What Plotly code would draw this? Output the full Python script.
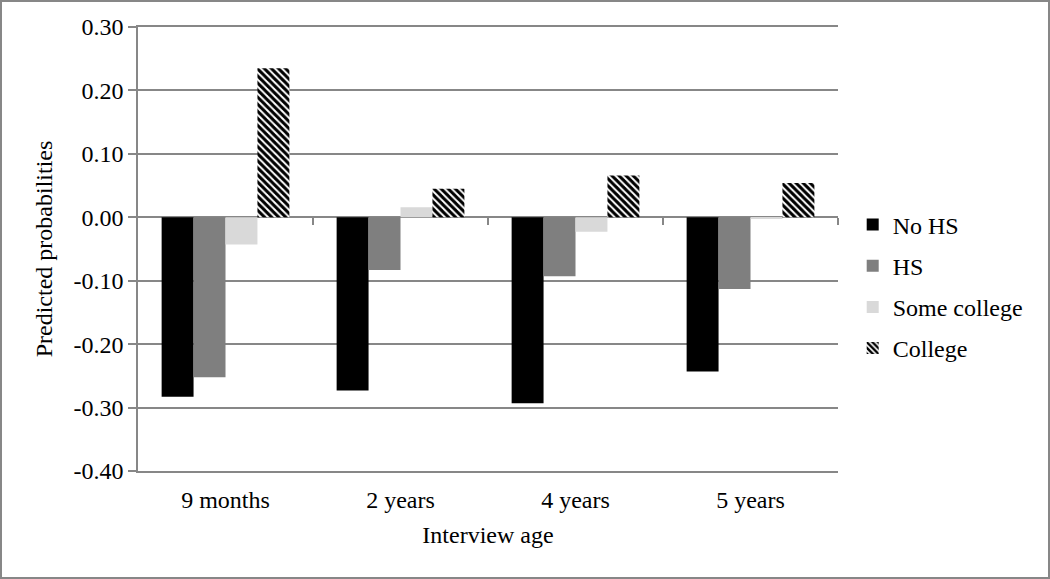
import plotly.graph_objects as go

categories = ["9 months", "2 years", "4 years", "5 years"]
no_hs = [-0.283, -0.273, -0.293, -0.243]
hs = [-0.252, -0.083, -0.093, -0.113]
some_college = [-0.043, 0.016, -0.023, -0.002]
college = [0.235, 0.045, 0.066, 0.054]
y_ticks = [-0.4, -0.3, -0.2, -0.1, 0.0, 0.1, 0.2, 0.3]
y_tick_text = ["-0.40", "-0.30", "-0.20", "-0.10", "0.00", "0.10", "0.20", "0.30"]

GRAY = "#878787"
FONT = "Liberation Serif"
FS = 24

fig = go.Figure()
fig.add_trace(go.Bar(name="No HS", x=categories, y=no_hs, marker=dict(color="#000000", line=dict(width=0)), legendgroup="a"))
fig.add_trace(go.Bar(name="HS", x=categories, y=hs, marker=dict(color="#7f7f7f", line=dict(width=0)), legendgroup="b"))
fig.add_trace(go.Bar(name="Some college", x=categories, y=some_college, marker=dict(color="#d9d9d9", line=dict(width=0)), legendgroup="c"))
fig.add_trace(go.Bar(name="College", x=categories, y=college,
                     marker=dict(color="#ffffff", line=dict(width=0),
                                 pattern=dict(shape="\\", fgcolor="#000000", bgcolor="#ffffff",
                                              size=5, solidity=0.6, fgopacity=1)),
                     legendgroup="d"))
# empty helper trace so that the boundary-tick axis is drawn
fig.add_trace(go.Scatter(x=[], y=[], xaxis="x2", yaxis="y", showlegend=False, hoverinfo="skip"))

L, T, W, H = 138, 27, 700, 444
fig.update_layout(
    width=1050, height=579,
    margin=dict(l=L, r=1050 - L - W, t=T, b=579 - T - H),
    paper_bgcolor="white", plot_bgcolor="white",
    font=dict(family=FONT, size=FS, color="#000000"),
    barmode="group", bargap=0.27, bargroupgap=0,
    showlegend=True,
    legend=dict(x=1.021, xanchor="left", y=0.605, yanchor="top",
                font=dict(family=FONT, size=FS), tracegroupgap=7,
                bgcolor="rgba(0,0,0,0)", itemclick=False),
    xaxis=dict(type="category", range=[-0.5, 3.5], showgrid=False, zeroline=False,
               showline=True, mirror=True, linecolor=GRAY, linewidth=1.5,
               ticks="", ticklabelstandoff=6,
               tickfont=dict(family=FONT, size=FS),
               title=dict(text="Interview age", font=dict(family=FONT, size=FS), standoff=15)),
    xaxis2=dict(overlaying="x", anchor="free", position=0.4 / 0.7, range=[-0.5, 3.5],
                tickvals=[0.5, 1.5, 2.5, 3.5], ticks="outside", ticklen=7, tickwidth=1.5,
                tickcolor=GRAY, showticklabels=False, showgrid=False, zeroline=False, showline=False),
    yaxis=dict(range=[-0.4, 0.3], tickvals=y_ticks, ticktext=y_tick_text,
               showgrid=True, gridcolor=GRAY, gridwidth=1.5,
               zeroline=True, zerolinecolor=GRAY, zerolinewidth=1.5,
               showline=True, linecolor=GRAY, linewidth=1.5,
               ticks="outside", ticklen=8, tickwidth=1.5, tickcolor=GRAY,
               tickfont=dict(family=FONT, size=FS),
               title=dict(text="Predicted probabilities", font=dict(family=FONT, size=FS), standoff=14)),
)

# outer border of the figure
def px_x(p):
    return (p - L) / W

def px_y(p):
    return (T + H - p) / H

fig.add_shape(type="rect", xref="paper", yref="paper",
              x0=px_x(1), x1=px_x(1049), y0=px_y(1), y1=px_y(578),
              line=dict(color=GRAY, width=2), fillcolor="rgba(0,0,0,0)", layer="below")

fig.write_html("out.html", config={"displayModeBar": False},
               post_script="document.body.style.margin='0';document.body.style.padding='0';document.body.style.overflow='hidden';")
